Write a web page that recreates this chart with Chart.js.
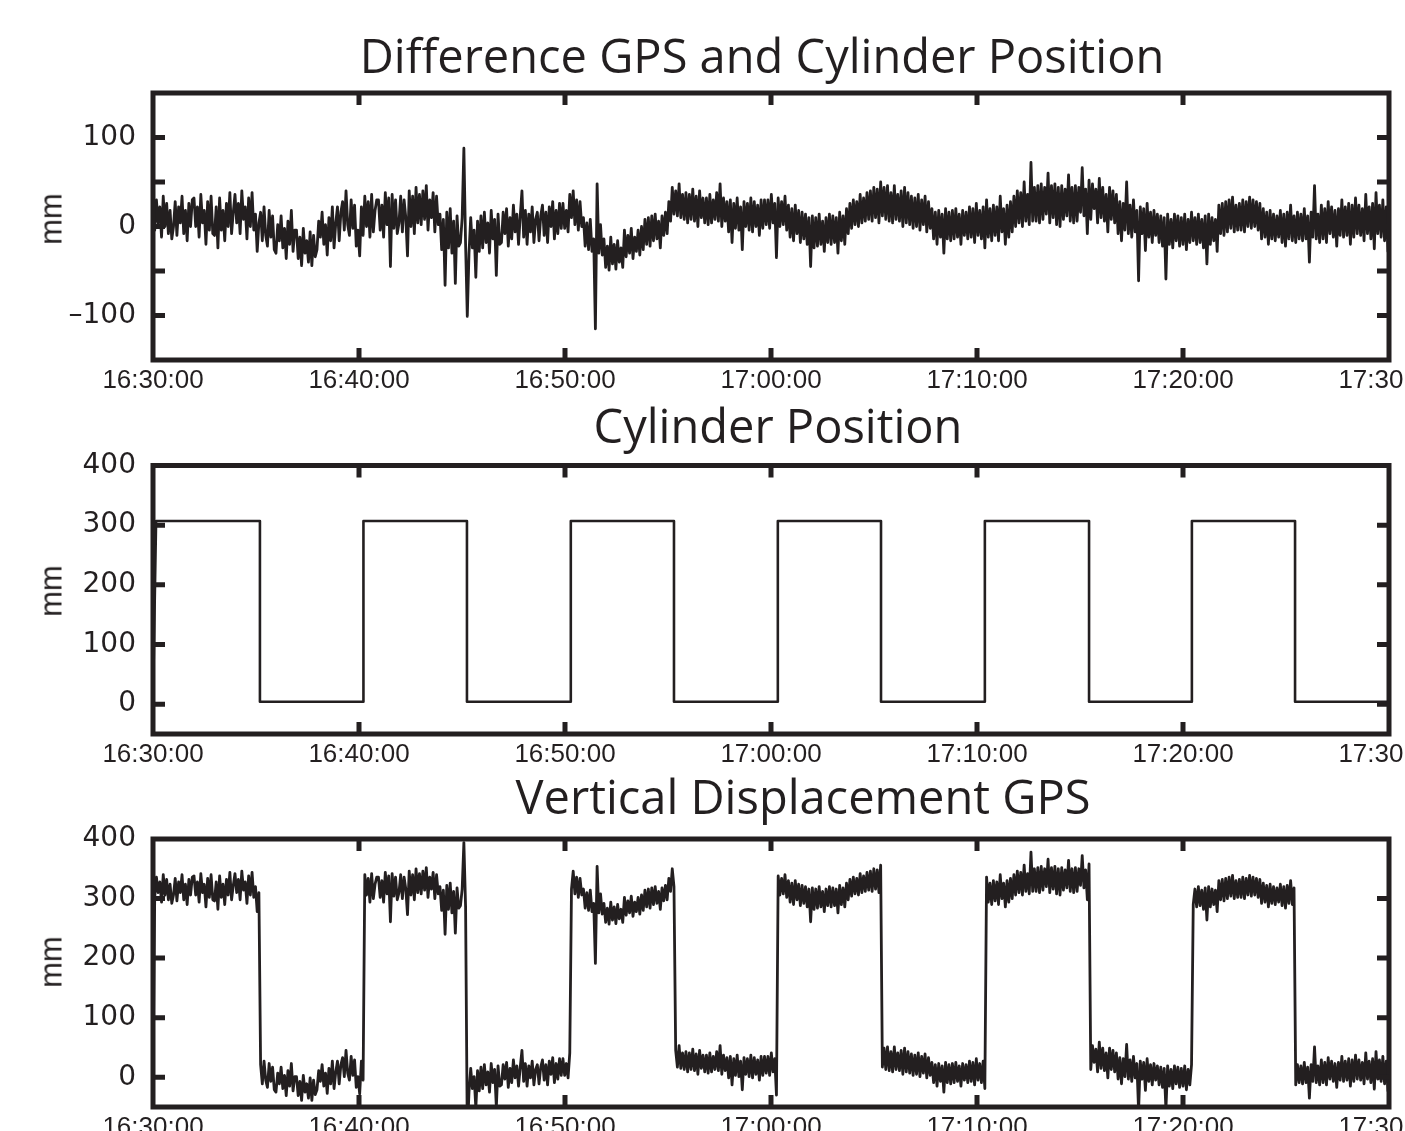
<!DOCTYPE html>
<html>
<head>
<meta charset="utf-8">
<title>GPS vs cylinder</title>
<script src="https://cdn.jsdelivr.net/npm/chart.js@4.4.1/dist/chart.umd.min.js"></script>
<style>
  html, body { margin: 0; padding: 0; background: #fff; overflow: hidden; }
  body { width: 1405px; height: 1131px; position: relative; }
  canvas.panel { position: absolute; left: 0; }
  .title {
    position: absolute; transform: translateX(-50%); white-space: nowrap;
    font-family: "Open Sans", sans-serif; font-size: 47px; line-height: 1; color: #231f20;
  }
  .unit {
    position: absolute; transform: translate(-50%, -50%) rotate(-90deg);
    font-family: "Liberation Sans", Arial, sans-serif; font-size: 31px; line-height: 1; color: #231f20;
  }
</style>
</head>
<body>
<canvas id="diffChart" class="panel" width="1470" height="400" style="top:0"></canvas>
<canvas id="cylChart" class="panel" width="1470" height="374" style="top:400px"></canvas>
<canvas id="gpsChart" class="panel" width="1470" height="373" style="top:774px"></canvas>

<div class="title" style="left:762px; top:32px">Difference GPS and Cylinder Position</div>
<div class="title" style="left:778px; top:402px">Cylinder Position</div>
<div class="title" style="left:803px; top:773px">Vertical Displacement GPS</div>
<div class="unit" style="left:51px; top:219px">mm</div>
<div class="unit" style="left:51px; top:591px">mm</div>
<div class="unit" style="left:51px; top:962px">mm</div>

<script>
const INK = '#231f20';

// x axis: seconds after 16:30:00
const timeTickLabels = ['16:30:00', '16:40:00', '16:50:00', '17:00:00', '17:10:00', '17:20:00', '17:30:00'];
const sampleStep = 5;   // seconds between samples of the GPS traces
const xMax = 3618;

// GPS minus cylinder (mm), one row per minute (12 samples)
const diffValues = [
  28, -4, 30, 4, 22, -12, 34, 0, 26, -8, 18, -14,
  0, 28, -10, 22, 4, 34, -8, 18, -16, 26, 0, 30,
  32, 0, 22, -12, 36, 4, 18, -20, 28, -4, 34, -8,
  -10, 22, -24, 32, -4, 18, -16, 26, 0, 38, -8, 16,
  36, 4, 26, -8, 40, 8, 22, -14, 32, 0, 38, -4,
  14, -28, 4, 16, -16, 22, -10, -22, 18, -12, 12, -26,
  -30, 2, -16, 12, -24, -2, -36, 6, -20, 18, -28, -4,
  -4, -36, -12, -44, -2, -30, -16, -40, -6, -44, -10, -34,
  -26, 6, -12, 16, -20, 2, -32, 10, -16, 22, -24, 4,
  22, -16, 16, 28, -4, 40, 2, -10, 30, -2, 24, -22,
  -4, -33, 22, -10, 34, 0, 28, -12, 36, -6, 18, 30,
  30, -4, 24, -12, 38, 2, 32, -45, 36, -2, 30, -8,
  4, 34, -6, 30, 10, -33, 40, 0, 34, -8, 44, 4,
  36, 2, 40, 8, 46, -4, 30, 10, 38, -6, 34, 2,
  14, -26, 8, -66, 16, -24, 20, -30, 6, -64, 12, -22,
  -18, 10, 88, -20, -101, -30, 10, -24, -4, -57, 6, -28,
  12, -24, 16, -18, 4, -30, 18, -14, 8, -55, 14, -20,
  -18, 16, -8, 20, -22, 10, -14, 24, -6, 14, -20, 12,
  40, -12, 18, -20, 14, -6, 22, -18, 8, 16, -16, 12,
  24, -10, 16, -18, 22, 0, 28, -14, 18, -8, 26, -2,
  26, -2, 18, -6, 36, 10, 40, 2, 30, -4, 28, 0,
  10, -22, 4, -26, 8, -28, -14, -115, 48, -30, 2, -32,
  -14, -46, -22, -49, -12, -42, -20, -48, -16, -40, -24, -46,
  -4, -34, -10, -30, -2, -36, -12, -28, -4, -32, 0, -26,
  8, -20, 10, -22, 12, -16, 14, -14, 6, -24, 12, -10,
  16, -8, 28, 6, 44, 14, 40, 12, 48, 10, 36, 8,
  38, 4, 36, 8, 42, 6, 34, 0, 40, 10, 32, 4,
  32, 2, 36, 4, 30, 8, 38, 6, 48, 0, 32, 6,
  28, -6, 30, -18, 26, -2, 32, -4, 22, -26, 28, 0,
  26, -4, 32, -6, 28, 0, 24, -10, 30, -2, 30, 2,
  30, -2, 36, 4, 26, -35, 32, 0, 28, 2, 34, -4,
  24, -12, 20, -16, 24, -8, 18, -18, 16, -14, 14, -20,
  10, -45, 12, -24, 10, -22, 14, -20, 6, -28, 10, -18,
  14, -20, 12, -18, 10, -30, 16, -16, 12, -20, 20, -8,
  26, -2, 30, 2, 28, 0, 36, 4, 32, 6, 38, 8,
  40, 6, 44, 10, 42, 4, 50, 12, 44, 8, 46, 6,
  38, 4, 46, 8, 36, 6, 40, 0, 44, 4, 38, 2,
  34, -2, 32, 0, 36, -4, 30, 2, 34, -6, 28, -2,
  20, -14, 16, -20, 18, -12, 14, -30, 20, -14, 16, -16,
  18, -14, 20, -12, 14, -20, 18, -10, 16, -14, 22, -12,
  20, -18, 26, -10, 18, -14, 22, -24, 30, -12, 20, -16,
  24, -10, 22, -16, 34, -6, 20, -20, 24, -12, 28, -6,
  34, 0, 40, 4, 38, 0, 50, 6, 36, 2, 72, 6,
  44, 6, 46, 4, 48, 8, 44, 14, 60, 4, 46, 10,
  48, 2, 44, 0, 46, 8, 42, 12, 58, 6, 44, 4,
  46, 6, 44, 16, 66, 12, 42, -8, 52, 8, 48, 20,
  42, 4, 54, 10, 44, 6, 36, -6, 44, 8, 40, 4,
  36, -8, 28, -16, 26, -4, 50, -8, 24, -12, 30, -6,
  18, -61, 22, -8, 20, -27, 26, -12, 16, -18, 18, -10,
  14, -18, 12, -22, 10, -59, 14, -20, 8, -24, 14, -16,
  12, -22, 10, -20, 14, -26, 8, -18, 16, -16, 10, -20,
  14, -18, 8, -24, 12, -42, 14, -20, 10, -16, 8, -28,
  24, -8, 26, -10, 28, -6, 30, -2, 33, -6, 24, -4,
  26, -4, 30, -6, 28, 0, 33, -2, 30, 0, 28, -4,
  26, -14, 20, -12, 16, -20, 18, -14, 14, -16, 12, -12,
  18, -18, 14, -22, 16, -14, 24, -16, 12, -18, 16, -14,
  14, -16, 20, -14, 12, -40, 16, -12, 46, -14, 14, -18,
  24, -14, 20, -18, 28, -8, 22, -12, 18, -22, 20, -10,
  30, -12, 22, -10, 26, -20, 24, -12, 32, -8, 24, -10,
  20, -16, 36, -8, 22, -14, 26, -25, 38, -8, 24, -12,
  30, -16, 22, -28, 20
];

// cylinder position (mm): corner points of the square wave
const cylTimes = [0, 9, 313, 313, 616, 616, 919, 919, 1223, 1223, 1525, 1525, 1829, 1829,
  2131, 2131, 2435, 2435, 2740, 2740, 3041, 3041, 3343, 3343, 3618];
const cylValues = [3, 307, 307, 4, 4, 307, 307, 4, 4, 307, 307, 4, 4, 307,
  307, 4, 4, 307, 307, 4, 4, 307, 307, 4, 4];

// GPS vertical displacement (mm), same sampling as diffValues
const gpsValues = [
  8, 302, 336, 310, 328, 294, 340, 306, 332, 298, 324, 292,
  306, 334, 296, 328, 310, 340, 298, 324, 290, 332, 306, 336,
  338, 306, 328, 294, 342, 310, 324, 286, 334, 302, 340, 298,
  296, 328, 282, 338, 302, 324, 290, 332, 306, 344, 298, 322,
  342, 310, 332, 298, 346, 314, 328, 292, 338, 306, 344, 302,
  320, 278, 310, 21, -11, 27, -5, -17, 23, -7, 17, -21,
  -25, 7, -11, 17, -19, 3, -31, 11, -15, 23, -23, 1,
  1, -31, -7, -39, 3, -25, -11, -35, -1, -39, -5, -29,
  -21, 11, -7, 21, -15, 7, -27, 15, -11, 27, -19, 9,
  27, -11, 21, 33, 1, 45, 7, -5, 35, 3, 29, -17,
  1, -28, 27, -5, 340, 306, 334, 294, 342, 300, 324, 336,
  336, 302, 330, 294, 344, 308, 338, 261, 342, 304, 336, 298,
  310, 340, 300, 336, 316, 273, 346, 306, 340, 298, 350, 310,
  342, 308, 346, 314, 352, 302, 336, 316, 344, 300, 340, 308,
  320, 280, 314, 240, 322, 282, 326, 276, 312, 242, 318, 284,
  288, 316, 394, 286, -96, -25, 15, -19, 1, -52, 11, -23,
  17, -19, 21, -13, 9, -25, 23, -9, 13, -50, 19, -15,
  -13, 21, -3, 25, -17, 15, -9, 29, -1, 19, -15, 17,
  45, -7, 23, -15, 19, -1, 27, -13, 13, 21, -11, 17,
  29, -5, 21, -13, 27, 5, 33, -9, 23, -3, 31, 3,
  31, 3, 23, -1, 41, 316, 346, 308, 336, 302, 334, 306,
  316, 284, 310, 280, 314, 278, 292, 191, 354, 276, 308, 274,
  292, 260, 284, 257, 294, 264, 286, 258, 290, 266, 282, 260,
  302, 272, 296, 276, 304, 270, 294, 278, 302, 274, 306, 280,
  314, 286, 316, 284, 318, 290, 320, 292, 312, 282, 318, 296,
  322, 298, 334, 312, 350, 320, 45, 17, 53, 15, 41, 13,
  43, 9, 41, 13, 47, 11, 39, 5, 45, 15, 37, 9,
  37, 7, 41, 9, 35, 13, 43, 11, 53, 5, 37, 11,
  33, -1, 35, -13, 31, 3, 37, 1, 27, -21, 33, 5,
  31, 1, 37, -1, 33, 5, 29, -5, 35, 3, 35, 7,
  35, 3, 41, 9, 31, -30, 338, 306, 334, 308, 340, 302,
  330, 294, 326, 290, 330, 298, 324, 288, 322, 292, 320, 286,
  316, 261, 318, 282, 316, 284, 320, 286, 312, 278, 316, 288,
  320, 286, 318, 288, 316, 276, 322, 290, 318, 286, 326, 298,
  332, 304, 336, 308, 334, 306, 342, 310, 338, 312, 344, 314,
  346, 312, 350, 316, 348, 310, 356, 17, 49, 13, 51, 11,
  43, 9, 51, 13, 41, 11, 45, 5, 49, 9, 43, 7,
  39, 3, 37, 5, 41, 1, 35, 7, 39, -1, 33, 3,
  25, -9, 21, -15, 23, -7, 19, -25, 25, -9, 21, -11,
  23, -9, 25, -7, 19, -15, 23, -5, 21, -9, 27, -7,
  25, -13, 31, -5, 23, -9, 27, -19, 336, 294, 326, 290,
  330, 296, 328, 290, 340, 300, 326, 286, 330, 294, 334, 300,
  340, 306, 346, 310, 344, 306, 356, 312, 342, 308, 378, 312,
  350, 312, 352, 310, 354, 314, 350, 320, 366, 310, 352, 316,
  354, 308, 350, 306, 352, 314, 348, 318, 364, 312, 350, 310,
  352, 312, 350, 322, 372, 318, 348, 298, 358, 13, 53, 25,
  47, 9, 59, 15, 49, 11, 41, -1, 49, 13, 45, 9,
  41, -3, 33, -11, 31, 1, 55, -3, 29, -7, 35, -1,
  23, -56, 27, -3, 25, -22, 31, -7, 21, -13, 23, -5,
  19, -13, 17, -17, 15, -54, 19, -15, 13, -19, 19, -11,
  17, -17, 15, -15, 19, -21, 13, -13, 21, 290, 316, 286,
  320, 288, 314, 282, 318, 264, 320, 286, 316, 290, 314, 278,
  330, 298, 332, 296, 334, 300, 336, 304, 339, 300, 330, 302,
  332, 302, 336, 300, 334, 306, 339, 304, 336, 306, 334, 302,
  332, 292, 326, 294, 322, 286, 324, 292, 320, 290, 318, 294,
  324, 288, 320, 284, 322, 292, 330, 290, 318, -13, 21, -9,
  19, -11, 25, -9, 17, -35, 21, -7, 51, -9, 19, -13,
  29, -9, 25, -13, 33, -3, 27, -7, 23, -17, 25, -5,
  35, -7, 27, -5, 31, -15, 29, -7, 37, -3, 29, -5,
  25, -11, 41, -3, 27, -9, 31, -20, 43, -3, 29, -7,
  35, -11, 27, -23, 25
];

const xTickFont = { family: '"Liberation Sans", Arial, sans-serif', size: 26 };
const yTickFont = { family: '"DejaVu Sans", sans-serif', size: 28 };

// matlab style frame with inward ticks on all four sides
const framePlugin = {
  id: 'frame',
  afterDatasetsDraw(chart) {
    const { ctx, chartArea: a } = chart;
    const x = chart.scales.x, y = chart.scales.y;
    const len = 12;
    ctx.save();
    ctx.strokeStyle = INK;
    ctx.lineWidth = 5;
    ctx.strokeRect(a.left, a.top, a.right - a.left, a.bottom - a.top);
    ctx.beginPath();
    x.ticks.forEach(t => {
      const px = x.getPixelForValue(t.value);
      if (px < a.left + 2 || px > a.right - 2) return;
      ctx.moveTo(px, a.bottom); ctx.lineTo(px, a.bottom - len);
      ctx.moveTo(px, a.top); ctx.lineTo(px, a.top + len);
    });
    y.ticks.forEach(t => {
      const py = y.getPixelForValue(t.value);
      if (py < a.top + 2 || py > a.bottom - 2) return;
      ctx.moveTo(a.left, py); ctx.lineTo(a.left + len, py);
      ctx.moveTo(a.right, py); ctx.lineTo(a.right - len, py);
    });
    ctx.stroke();
    ctx.restore();
  }
};

function makePanel(id, points, o) {
  return new Chart(document.getElementById(id), {
    type: 'line',
    data: {
      datasets: [{
        data: points,
        borderColor: INK,
        borderWidth: o.lineWidth,
        borderJoinStyle: 'round',
        borderCapStyle: 'round',
        pointRadius: 0,
        tension: 0
      }]
    },
    options: {
      responsive: false,
      animation: false,
      devicePixelRatio: 1,
      events: [],
      layout: { padding: { top: o.top, right: 81, bottom: 0, left: 0 } },
      plugins: { legend: { display: false }, tooltip: { enabled: false }, title: { display: false } },
      scales: {
        x: {
          type: 'linear', min: 0, max: xMax,
          afterFit: s => { s.height = 40; },
          grid: { display: false, drawTicks: false },
          border: { display: false },
          ticks: {
            stepSize: 600, includeBounds: false, autoSkip: false, maxRotation: 0,
            padding: 5, color: INK, font: xTickFont,
            callback: (v, i) => timeTickLabels[i]
          }
        },
        y: {
          type: 'linear', min: o.yMin, max: o.yMax,
          afterFit: s => { s.width = 153; },
          grid: { display: false, drawTicks: false },
          border: { display: false },
          ticks: {
            stepSize: o.yStep, includeBounds: false, padding: 17, color: INK, font: yTickFont,
            callback: o.yLabel
          }
        }
      }
    },
    plugins: [framePlugin]
  });
}

const diffPoints = diffValues.map((v, i) => ({ x: i * sampleStep, y: v }));
const gpsPoints = gpsValues.map((v, i) => ({ x: i * sampleStep, y: v }));
const cylPoints = cylTimes.map((t, i) => ({ x: t, y: cylValues[i] }));

makePanel('diffChart', diffPoints, {
  top: 93, yMin: -150, yMax: 150, yStep: 50, lineWidth: 2.8,
  yLabel: v => (v % 100 === 0 ? (v < 0 ? '\u2013' + (-v) : String(v)) : '')
});
makePanel('cylChart', cylPoints, {
  top: 65.5, yMin: -50, yMax: 400, yStep: 100, lineWidth: 2.6,
  yLabel: v => String(v)
});
makePanel('gpsChart', gpsPoints, {
  top: 65, yMin: -50, yMax: 400, yStep: 100, lineWidth: 2.8,
  yLabel: v => String(v)
});
</script>
</body>
</html>
